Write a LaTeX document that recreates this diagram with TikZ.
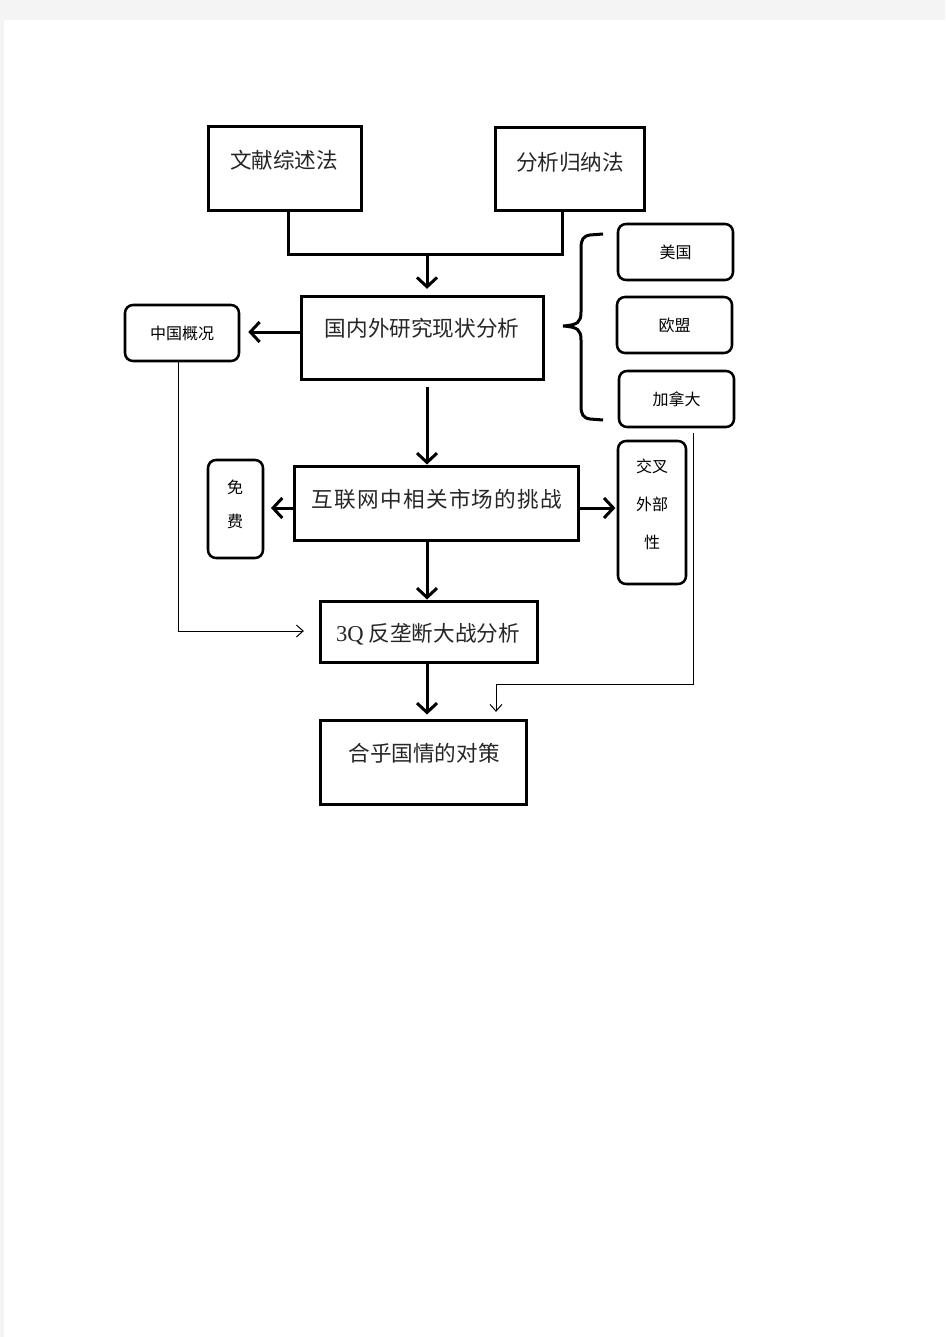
\documentclass[tikz,border=0pt]{standalone}
\usepackage{fontspec}
\setmainfont{Liberation Serif}
\newfontfamily\cjk{Noto Sans CJK SC}
\newfontfamily\cjkwide[LetterSpace=6]{Noto Sans CJK SC}
\usetikzlibrary{arrows.meta}
\definecolor{bg}{HTML}{F4F4F4}
\definecolor{ink}{HTML}{262626}
\begin{document}
\begin{tikzpicture}[x=0.75pt,y=-0.75pt,
  box/.style={draw=black,line width=2.25pt,fill=white,inner sep=0pt},
  rbox/.style={draw=black,line width=1.9pt,rounded corners=6pt,fill=white,inner sep=0pt},
  big/.style={font=\cjk\fontsize{16.2}{19}\selectfont,text=ink,inner sep=0pt},
  bigwide/.style={font=\cjkwide\fontsize{16.2}{19}\selectfont,text=ink,inner sep=0pt},
  small/.style={font=\cjk\fontsize{12}{14}\selectfont,text=black,inner sep=0pt,align=center},
  conn/.style={line width=2.25pt},
  thickarr/.style={line width=2.25pt,-{Straight Barb[length=7pt,width=15pt]}},
  thinarr/.style={line width=0.75pt,-{Straight Barb[length=5pt,width=9pt]}},
]
\useasboundingbox (0,0) rectangle (945,1337);
\fill[bg] (0,0) rectangle (945,1337);
\fill[white] (4,20) rectangle (945,1337);

% helper coordinates
\coordinate (ax) at (288,0);
\coordinate (bx) at (562,0);
\coordinate (jn) at (427,255);
\coordinate (cy) at (0,332);
\coordinate (hy) at (0,508);
\coordinate (dx) at (178,0);
\coordinate (ky) at (0,631);
\coordinate (gx) at (693,0);
\coordinate (ly) at (0,684);
\coordinate (lx) at (496,0);

% boxes
\node[box,minimum width=114.75pt,minimum height=63pt] (A) at (284.5,169) {};
\node[big] (At) at (284,160) {文献综述法};
\node[box,minimum width=111.75pt,minimum height=62.25pt] (B) at (569.5,169.5) {};
\node[big] (Bt) at (570,162) {分析归纳法};
\node[box,minimum width=181.5pt,minimum height=61.5pt] (C) at (422,338) {};
\node[big] (Ct) at (422,328) {国内外研究现状分析};
\node[rbox,small,minimum width=85.5pt,minimum height=42pt] (D) at (182,333) {中国概况};
\node[rbox,small,minimum width=86.25pt,minimum height=42pt] (E) at (675.5,252) {美国};
\node[rbox,small,minimum width=86.25pt,minimum height=42pt] (F) at (674.5,325) {欧盟};
\node[rbox,small,minimum width=86.25pt,minimum height=42pt] (G) at (676.5,399) {加拿大};
\node[box,minimum width=213pt,minimum height=55.5pt] (H) at (436,503) {};
\node[bigwide] (Ht) at (437,499) {互联网中相关市场的挑战};
\node[rbox,minimum width=41.25pt,minimum height=73.5pt] (I) at (235.5,509) {};
\node[small,font=\cjk\fontsize{12}{26}\selectfont] (It) at (235,504.5) {免\\费};
\node[rbox,minimum width=51pt,minimum height=107.25pt] (J) at (652,512.5) {};
\node[small,font=\cjk\fontsize{12}{28.5}\selectfont] (Jt) at (652,504.5) {交叉\\外部\\性};
\node[box,minimum width=162.75pt,minimum height=45.75pt] (K) at (428.5,631.5) {};
\node[big] (Kt) at (428,634) {{\rmfamily\fontsize{17}{19}\selectfont 3Q} 反垄断大战分析};
\node[box,minimum width=154.5pt,minimum height=63pt] (L) at (423,762) {};
\node[big] (Lt) at (424,753) {合乎国情的对策};

% connectors
\draw[conn] (A.south -| ax) |- (jn) -| (B.south -| bx);
\draw[thickarr,shorten >=5pt] (jn) -- (C.north -| jn);
\draw[thickarr,shorten >=6pt] (C.west |- cy) -- (D.east |- cy);
\draw[thickarr,shorten <=4.5pt] (C.south -| jn) -- (H.north -| jn);
\draw[thickarr,shorten >=5pt] (H.west |- hy) -- (I.east |- hy);
\draw[thickarr,shorten >=1pt] (H.east |- hy) -- (J.west |- hy);
\draw[thickarr] (H.south -| jn) -- (K.north -| jn);
\draw[thickarr,shorten >=3pt] (K.south -| jn) -- (L.north -| jn);
\draw[thinarr,shorten >=11pt] (D.south -| dx) |- (K.west |- ky);
\draw[thinarr,shorten <=3.5pt,shorten >=5pt] (G.south -| gx) |- (lx |- ly) -- (L.north -| lx);

% brace
\draw[line width=2.25pt]
  (603,234) -- (590,235) .. controls (583,236) and (581,240) .. (581,248)
  -- (581,312) .. controls (581,322) and (578,325) .. (563,326)
  .. controls (578,327) and (581,330) .. (581,340)
  -- (581,406) .. controls (581,414) and (583,418) .. (590,419) -- (603,420);
\end{tikzpicture}
\end{document}
